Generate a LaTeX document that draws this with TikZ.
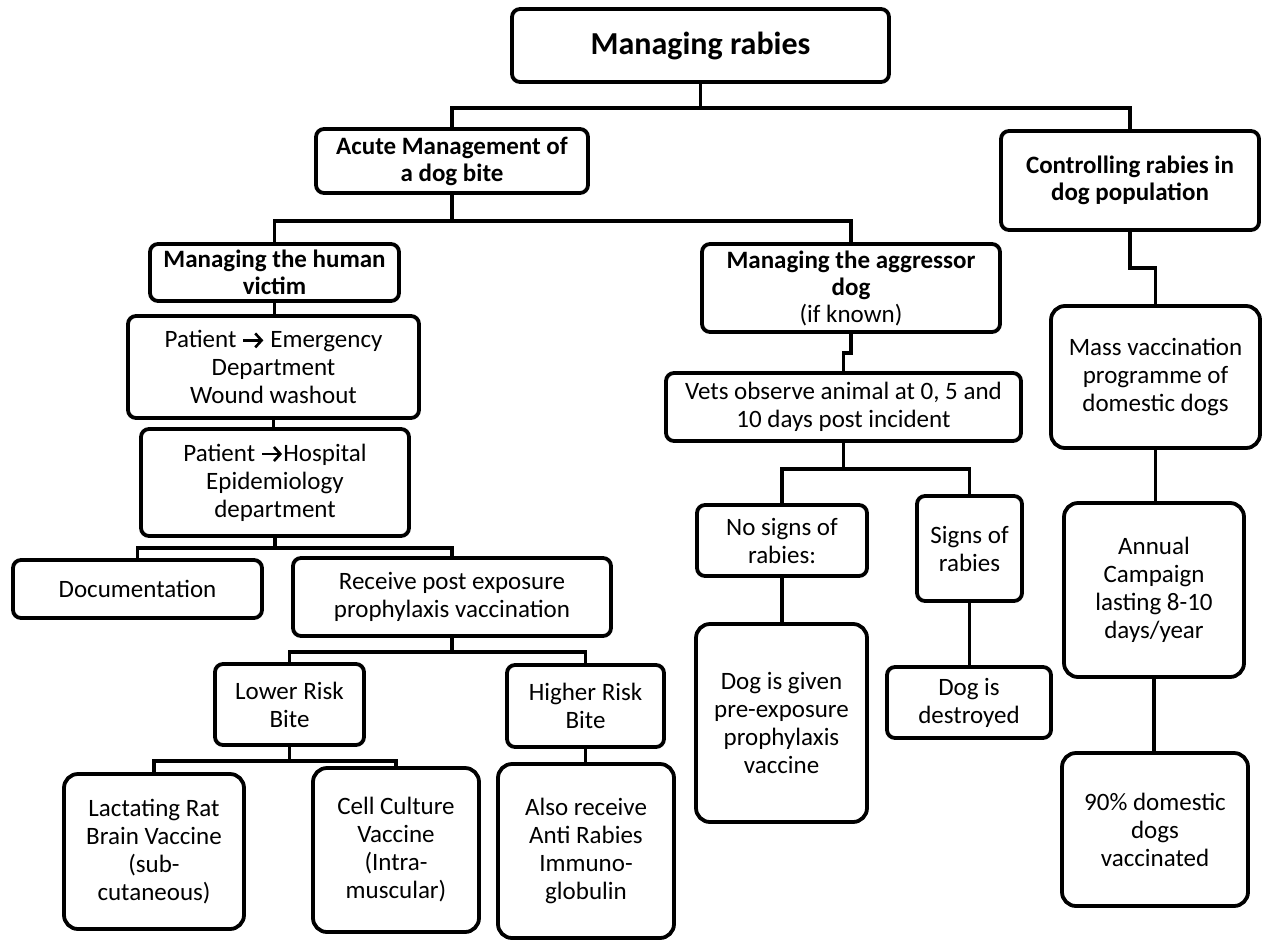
\documentclass[tikz,border=0pt]{standalone}
\usepackage{fontspec}
\setmainfont{Carlito}
\usepackage{tikz}
\usetikzlibrary{arrows.meta}
\newcommand{\pto}{\tikz[baseline=-0.6ex]\draw[line width=1.3pt, -{Straight Barb[length=3.2pt, width=7pt, line width=1.3pt]}] (0pt,0pt) -- (10pt,0pt);}

\begin{document}
\begin{tikzpicture}[
  x=0.5pt, y=-0.5pt,
  box/.style={rectangle, draw=black, rounded corners=4pt, line width=1.9pt,
    align=center, inner sep=2pt, fill=white, font=\fontsize{12.5}{14}\selectfont},
  hdr/.style={box, font=\bfseries\fontsize{12.5}{13.5}\selectfont},
  tall/.style={box, rounded corners=7pt},
  sz/.style 2 args={minimum width=#1*0.5pt, minimum height=#2*0.5pt},
  link/.style={line width=1.9pt, draw=black},
]
\useasboundingbox[fill=white] (0,0) rectangle (1263,942);

%% -- Top levels --------------------------------------------------
\node[hdr, sz={377}{73}, font=\bfseries\fontsize{16}{18}\selectfont] (root) at (700.5,45.5) {Managing rabies};
\node[hdr, sz={272}{64}] (acute) at (452,161) {Acute Management of\\a dog bite};
\node[hdr, sz={258}{99}] (ctrl) at (1130,180.5) {Controlling rabies in\\dog population};

%% -- Human victim branch -----------------------------------------
\node[hdr, sz={249}{57}] (human) at (274.5,272.5) {Managing the human\\victim};
\node[box, sz={291}{102}] (emerg) at (273.5,367) {Patient \pto{} Emergency\\Department\\Wound washout};
\node[box, sz={268}{107}] (hosp) at (275,482.5) {Patient \pto{}Hospital\\Epidemiology\\department};
\node[box, sz={249}{58}] (doc) at (137.5,589) {Documentation};
\node[box, sz={318}{78}] (recv) at (452,597) {Receive post exposure\\prophylaxis vaccination};
\node[box, sz={149}{81}] (lower) at (289.5,704.5) {Lower Risk\\Bite};
\node[box, sz={157}{82}] (higher) at (585.5,706) {Higher Risk\\Bite};
\node[tall, sz={180}{155}] (lact) at (154,851.5) {Lactating Rat\\Brain Vaccine\\(sub-\\cutaneous)};
\node[tall, sz={166}{164}] (cell) at (396,850) {Cell Culture\\Vaccine\\(Intra-\\muscular)};
\node[tall, sz={176}{174}] (also) at (586,851) {Also receive\\Anti Rabies\\Immuno-\\globulin};

%% -- Aggressor dog branch ----------------------------------------
\node[hdr, sz={298}{88}] (aggr) at (851,288) {Managing the aggressor\\dog\\{\mdseries (if known)}};
\node[box, sz={355}{68}] (vets) at (843.5,407) {Vets observe animal at 0, 5 and\\10 days post incident};
\node[box, sz={170}{71}] (nosig) at (782,540.5) {No signs of\\rabies:};
\node[box, sz={105}{105}] (sig) at (969.5,548.5) {Signs of\\rabies};
\node[tall, sz={171}{198}] (given) at (781.5,723) {Dog is given\\pre-exposure\\prophylaxis\\vaccine};
\node[box, sz={164}{71}] (destr) at (969,702.5) {Dog is\\destroyed};

%% -- Dog population branch ---------------------------------------
\node[tall, sz={209}{142}] (mass) at (1155.5,377) {Mass vaccination\\programme of\\domestic dogs};
\node[tall, sz={180}{174}] (annual) at (1154,590) {Annual\\Campaign\\lasting 8-10\\days/year};
\node[tall, sz={186}{153}] (ninety) at (1155,829.5) {90\% domestic\\dogs\\vaccinated};

%% Links
\draw[link] (root.south) -- ++(0,24) -| (acute.north);
\draw[link] (root.south) -- ++(0,24) -| (ctrl.north);
\draw[link] (acute.south) -- ++(0,26) -| (human.north);
\draw[link] (acute.south) -- ++(0,26) -| (aggr.north);
\draw[link] (ctrl.south) -- ++(0,36) -| (mass.north);

\draw[link] (human.south) -- (human.south |- emerg.north);
\draw[link] (emerg.south) -- (emerg.south |- hosp.north);
\draw[link] (hosp.south) -- ++(0,10) -| (doc.north);
\draw[link] (hosp.south) -- ++(0,10) -| (recv.north);
\draw[link] (recv.south) -- ++(0,14) -| (lower.north);
\draw[link] (recv.south) -- ++(0,14) -| (higher.north);
\draw[link] (lower.south) -- ++(0,14) -| (lact.north);
\draw[link] (lower.south) -- ++(0,14) -| (cell.north);
\draw[link] (higher.south) -- (higher.south |- also.north);

\draw[link] (aggr.south) -- ++(0,19) -| (vets.north);
\draw[link] (vets.south) -- ++(0,26) -| (nosig.north);
\draw[link] (vets.south) -- ++(0,26) -| (sig.north);
\draw[link] (nosig.south) -- (nosig.south |- given.north);
\draw[link] (sig.south) -- (sig.south |- destr.north);

\draw[link] (mass.south) -- (mass.south |- annual.north);
\draw[link] (annual.south) -- (annual.south |- ninety.north);

\end{tikzpicture}
\end{document}
